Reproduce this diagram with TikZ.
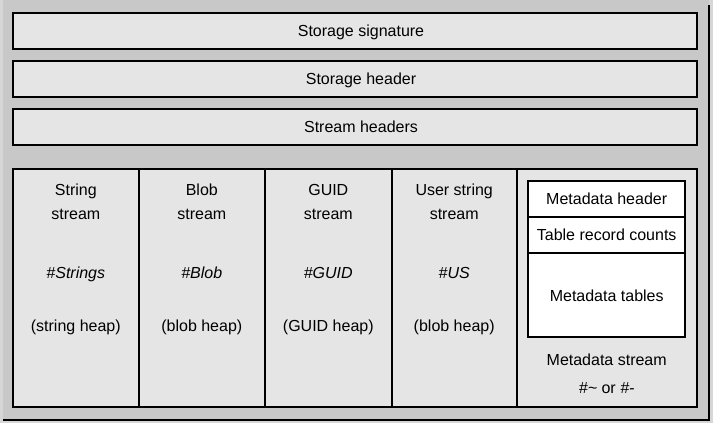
\documentclass[tikz,border=0pt]{standalone}
\usepackage{fontspec}
\setmainfont{Liberation Sans}
\definecolor{framegray}{HTML}{C8C8C8}
\definecolor{edgegray}{HTML}{D6D6D6}
\definecolor{boxgray}{HTML}{E5E5E5}
\begin{document}
\begin{tikzpicture}[x=1pt,y=-1pt,
  box/.style={draw=black,line width=2pt,fill=boxgray},
  inner/.style={draw=black,line width=2pt,fill=white},
  divider/.style={draw=black,line width=2pt},
  lbl/.style={anchor=base,inner sep=0pt,font=\fontsize{16}{19}\selectfont}
]
\useasboundingbox (0,0) rectangle (713,423);
% frame
\fill[edgegray] (0,0) rectangle (713,423);
\fill[framegray] (3,0) rectangle (709,419.5);
\draw[black,line width=2pt] (709,5) -- (709,420.5);
\draw[black,line width=2pt] (3,419.5) -- (710,419.5);

% top boxes
\draw[box] (13,13) rectangle (697,48.5);
\draw[box] (13,61) rectangle (697,97);
\draw[box] (13,109) rectangle (697,145);
\node[lbl] (sig) at (361,36) {Storage signature};
\node[lbl] (hdr) at (361,84) {Storage header};
\node[lbl] (sh) at (361,132) {Stream headers};

% streams panel
\draw[box] (13,169) rectangle (697,407);
\draw[divider] (138.5,169) -- (138.5,407);
\draw[divider] (265,169) -- (265,407);
\draw[divider] (391.7,169) -- (391.7,407);
\draw[divider] (516.7,169) -- (516.7,407);

% column texts
\node[lbl] (s1) at (75.8,195) {String};
\node[lbl] (s2) at (75.8,219) {stream};
\node[lbl] (s3) at (75.8,278.3) {\itshape \#Strings};
\node[lbl] (s4) at (75.8,331.7) {(string heap)};

\node[lbl] (b1) at (201.8,195) {Blob};
\node[lbl] (b2) at (201.8,219) {stream};
\node[lbl] (b3) at (201.8,278.3) {\itshape \#Blob};
\node[lbl] (b4) at (201.8,331.7) {(blob heap)};

\node[lbl] (g1) at (328.3,195) {GUID};
\node[lbl] (g2) at (328.3,219) {stream};
\node[lbl] (g3) at (328.3,278.3) {\itshape \#GUID};
\node[lbl] (g4) at (328.3,331.7) {(GUID heap)};

\node[lbl] (u1) at (454.2,195) {User string};
\node[lbl] (u2) at (454.2,219) {stream};
\node[lbl] (u3) at (454.2,278.3) {\itshape \#US};
\node[lbl] (u4) at (454.2,331.7) {(blob heap)};

% metadata stream
\draw[inner] (528.3,180.7) rectangle (685,336.7);
\draw[divider] (528.3,216.7) -- (685,216.7);
\draw[divider] (528.3,252.7) -- (685,252.7);
\node[lbl] (m1) at (606.7,204.3) {Metadata header};
\node[lbl] (m2) at (606.7,240) {Table record counts};
\node[lbl] (m3) at (606.7,301) {Metadata tables};
\node[lbl] (m4) at (606.7,365.7) {Metadata stream};
\node[lbl] (m5) at (606.7,393.3) {\itshape \#\textasciitilde{}\upshape{} or \itshape \#-};
\end{tikzpicture}
\end{document}
